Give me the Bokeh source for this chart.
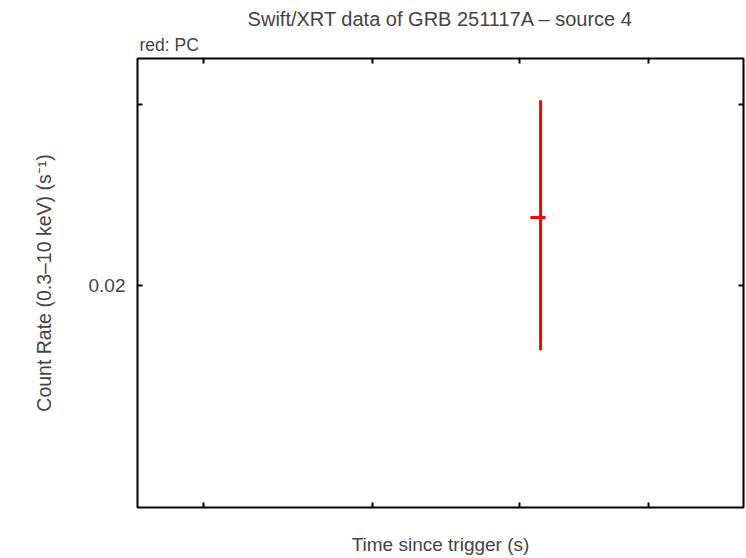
from bokeh.plotting import figure
from bokeh.models import FixedTicker, LogAxis, Title, Range1d, CustomJSTickFormatter
from bokeh.embed import file_html
from bokeh.resources import INLINE

# data
t = [8.155e5]
t_lo = [8.08e5]
t_hi = [8.19e5]
rate = [0.02328]
rate_lo = [0.01729]
rate_hi = [0.03028]

x_ticks = [6e5, 7e5, 8e5, 9e5]
y_ticks = [0.02, 0.03]
y_tick_labels = {0.02: "0.02", 0.03: ""}

FONT = "Liberation Sans"

p = figure(width=746, height=558, x_axis_type="log", y_axis_type="log",
           x_range=Range1d(5.65e5, 9.81e5), y_range=Range1d(0.01216, 0.03324),
           title=None, output_backend="svg", toolbar_location=None,
           min_border_left=137, min_border_right=3, min_border_bottom=51, min_border_top=58)

p.grid.visible = False
p.outline_line_color = "black"
p.outline_line_width = 2
p.background_fill_color = "white"
p.border_fill_color = "white"

blank = CustomJSTickFormatter(code="return ''")

# bottom axis
xa = p.below[0]
xa.ticker = FixedTicker(ticks=x_ticks)
xa.formatter = blank
xa.major_label_text_font_size = "1px"
xa.major_label_standoff = 0
xa.axis_line_color = None
xa.major_tick_in = 5
xa.major_tick_out = 0
xa.major_tick_line_width = 2
xa.minor_tick_line_color = None
xa.axis_label = "Time since trigger (s)"
xa.axis_label_text_font = FONT
xa.axis_label_text_font_size = "19px"
xa.axis_label_text_font_style = "normal"
xa.axis_label_standoff = 26

# left axis
ya = p.left[0]
ya.ticker = FixedTicker(ticks=y_ticks)
ya.major_label_overrides = y_tick_labels
ya.major_label_text_font = FONT
ya.major_label_text_font_size = "19px"
ya.major_label_standoff = 12
ya.axis_line_color = None
ya.major_tick_in = 5
ya.major_tick_out = 0
ya.major_tick_line_width = 2
ya.minor_tick_line_color = None
ya.axis_label = "Count Rate (0.3\u201310 keV) (s\u207b\u00b9)"
ya.axis_label_text_font = FONT
ya.axis_label_text_font_size = "19.5px"
ya.axis_label_text_font_style = "normal"
ya.axis_label_standoff = 31

# top mirrored axis (added first so it sits next to the frame)
ta = LogAxis(ticker=FixedTicker(ticks=x_ticks), formatter=blank,
             axis_line_color=None, major_tick_in=5, major_tick_out=0,
             major_label_standoff=0, major_label_text_font_size="1px",
             major_tick_line_width=2, minor_tick_line_color=None)
p.add_layout(ta, "above")

sub = Title(text="red: PC", align="left", text_font=FONT, text_font_size="17.5px",
            text_font_style="normal", offset=2, standoff=8)
p.add_layout(sub, "above")
main = Title(text="Swift/XRT data of GRB 251117A \u2013 source 4", align="center",
             text_font=FONT, text_font_size="20px", text_font_style="normal",
             standoff=-3, offset=-5)
p.add_layout(main, "above")

# right mirrored axis
ra = LogAxis(ticker=FixedTicker(ticks=y_ticks), formatter=blank,
             axis_line_color=None, major_tick_in=5, major_tick_out=0,
             major_label_standoff=0, major_label_text_font_size="1px",
             major_tick_line_width=2, minor_tick_line_color=None)
p.add_layout(ra, "right")

# error bars
p.segment(x0=t, y0=rate_lo, x1=t, y1=rate_hi, line_color="red", line_width=3)
p.segment(x0=t_lo, y0=rate, x1=t_hi, y1=rate, line_color="red", line_width=3)

open("out.html", "w").write(file_html(p, INLINE))
